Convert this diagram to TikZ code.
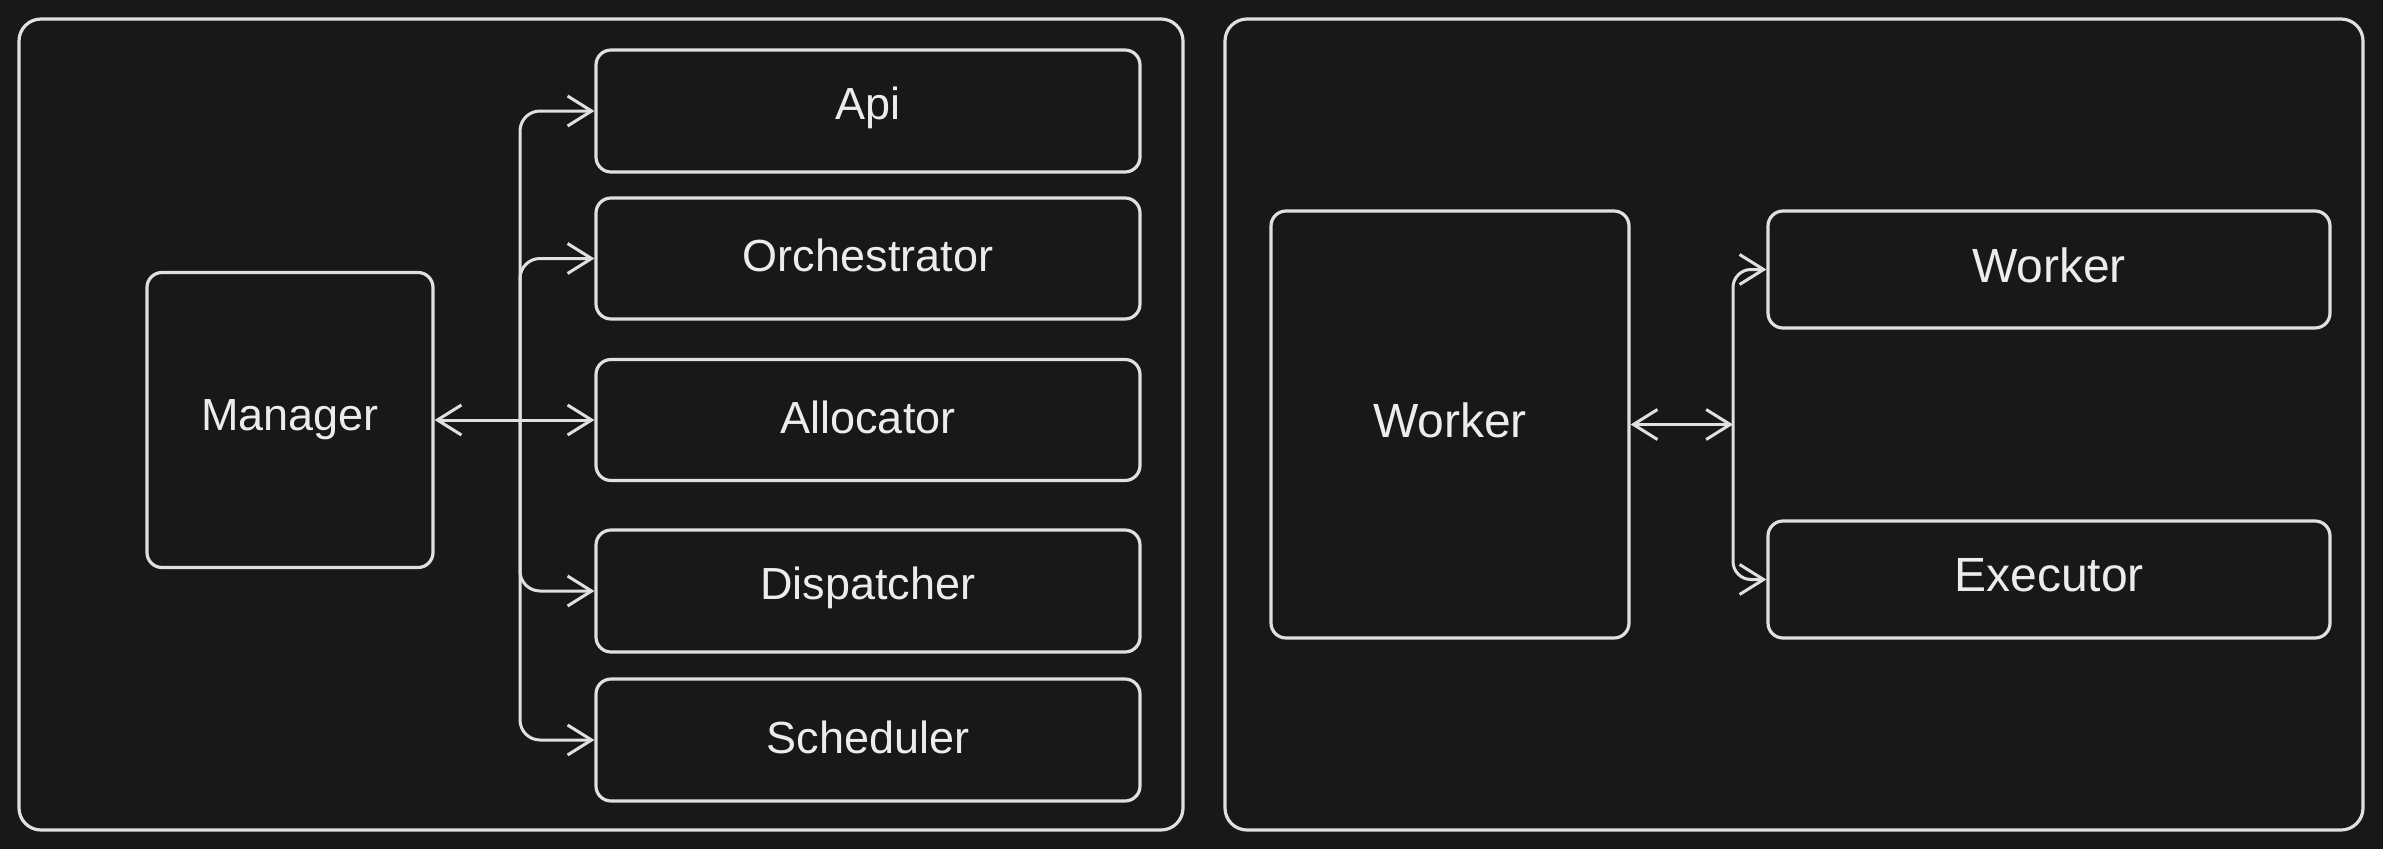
\documentclass[tikz,border=0pt]{standalone}
\usepackage{fontspec}
\setmainfont{Liberation Sans}
\usetikzlibrary{arrows.meta}
\definecolor{bgc}{HTML}{181818}
\definecolor{linec}{HTML}{E0E0E0}
\definecolor{textc}{HTML}{ECECEC}
\tikzset{
  panel/.style={draw=linec, line width=3.2pt, rounded corners=22pt, fill=bgc},
  box/.style={draw=linec, line width=3.2pt, rounded corners=15pt, text=textc,
    font=\fontsize{45}{54}\selectfont, inner sep=0pt},
  lbl/.style={text=textc, font=\fontsize{45}{54}\selectfont, inner sep=0pt, anchor=center},
  biglbl/.style={text=textc, font=\fontsize{48}{58}\selectfont, inner sep=0pt, anchor=center},
  conn/.style={draw=linec, line width=3pt, rounded corners=20pt,
    arrows={-Straight Barb[length=24pt, width=30pt, line width=3pt]}},
  conn2/.style={draw=linec, line width=3pt, rounded corners=18pt,
    arrows={Straight Barb[length=24pt, width=30pt, line width=3pt]-Straight Barb[length=24pt, width=30pt, line width=3pt]}}
}
\begin{document}
\begin{tikzpicture}[x=1pt, y=-1pt]
\fill[bgc] (0,0) rectangle (2383,849);
\useasboundingbox (0,0) rectangle (2383,849);
% panels
\node[panel, minimum width=1164pt, minimum height=811pt] (lp) at (601,424.5) {};
\node[panel, minimum width=1138pt, minimum height=811pt] (rp) at (1794,424.5) {};
% left panel
\node[box, minimum width=286pt, minimum height=295pt] (manager) at (290,420) {};
\node[box, minimum width=544pt, minimum height=122pt] (api) at (868,111) {};
\node[box, minimum width=544pt, minimum height=121pt] (orch) at (868,258.5) {};
\node[box, minimum width=544pt, minimum height=121pt] (alloc) at (868,420) {};
\node[box, minimum width=544pt, minimum height=122pt] (disp) at (868,591) {};
\node[box, minimum width=544pt, minimum height=122pt] (sched) at (868,740) {};
\node[lbl] (managerl) at ([yshift=0pt]manager.center) {Manager};
\node[lbl] (apil) at ([yshift=3pt]api.center) {Api};
\node[lbl] (orchl) at ([yshift=3pt]orch.center) {Orchestrator};
\node[lbl] (allocl) at ([yshift=3pt]alloc.center) {Allocator};
\node[lbl] (displ) at ([yshift=3pt]disp.center) {Dispatcher};
\node[lbl] (schedl) at ([yshift=3pt]sched.center) {Scheduler};
\coordinate (lbus) at (520,420);
\draw[conn2] (manager.east) -- (alloc.west);
\draw[conn] (lbus) |- (api.west);
\draw[conn] (lbus) |- (orch.west);
\draw[conn] (lbus) |- (disp.west);
\draw[conn] (lbus) |- (sched.west);
% right panel
\node[box, minimum width=358pt, minimum height=427pt] (bigworker) at (1450,424.5) {};
\node[box, minimum width=562pt, minimum height=117pt] (worker) at (2049,269.5) {};
\node[box, minimum width=562pt, minimum height=117pt] (exec) at (2049,579.5) {};
\node[biglbl] (bigworkerl) at ([yshift=4pt]bigworker.center) {Worker};
\node[biglbl] (workerl) at ([yshift=4pt]worker.center) {Worker};
\node[biglbl] (execl) at ([yshift=4pt]exec.center) {Executor};
\coordinate (rbus) at (1733,424.5);
\draw[conn2] (bigworker.east) -- (rbus);
\draw[conn2] (worker.west) -| (rbus) |- (exec.west);
\end{tikzpicture}
\end{document}
